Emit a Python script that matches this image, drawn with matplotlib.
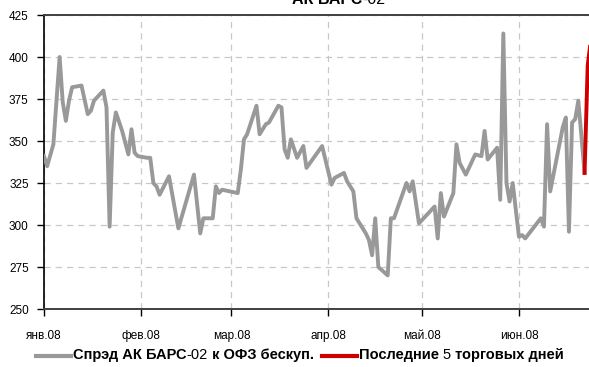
import numpy as np
import pandas as pd
import matplotlib
matplotlib.use("Agg")
import matplotlib.pyplot as plt
from matplotlib.lines import Line2D
from matplotlib.offsetbox import TextArea, DrawingArea, HPacker, AnchoredOffsetbox

plt.rcParams['font.family'] = ['Liberation Sans', 'DejaVu Sans']

# spread series (bp)
dates = ["2008-01-01", "2008-01-02", "2008-01-04", "2008-01-06", "2008-01-07", "2008-01-08",
         "2008-01-09", "2008-01-10", "2008-01-13", "2008-01-15", "2008-01-16", "2008-01-17",
         "2008-01-20", "2008-01-21", "2008-01-22", "2008-01-23", "2008-01-24", "2008-01-26",
         "2008-01-28", "2008-01-29", "2008-01-30", "2008-01-31", "2008-02-03", "2008-02-04",
         "2008-02-05", "2008-02-06", "2008-02-07", "2008-02-10", "2008-02-13", "2008-02-18",
         "2008-02-20", "2008-02-21", "2008-02-24", "2008-02-25", "2008-02-26", "2008-02-27",
         "2008-03-03", "2008-03-04", "2008-03-05", "2008-03-06", "2008-03-09", "2008-03-10",
         "2008-03-12", "2008-03-13", "2008-03-16", "2008-03-17", "2008-03-18", "2008-03-19",
         "2008-03-20", "2008-03-22", "2008-03-24", "2008-03-25", "2008-03-30", "2008-04-02",
         "2008-04-03", "2008-04-06", "2008-04-07", "2008-04-09", "2008-04-10", "2008-04-13",
         "2008-04-14", "2008-04-15", "2008-04-16", "2008-04-17", "2008-04-20", "2008-04-21",
         "2008-04-22", "2008-04-26", "2008-04-27", "2008-04-28", "2008-04-30", "2008-05-05",
         "2008-05-06", "2008-05-07", "2008-05-08", "2008-05-11", "2008-05-12", "2008-05-13",
         "2008-05-15", "2008-05-18", "2008-05-20", "2008-05-21", "2008-05-22", "2008-05-25",
         "2008-05-26", "2008-05-27", "2008-05-28", "2008-05-29", "2008-05-30", "2008-06-01",
         "2008-06-02", "2008-06-03", "2008-06-08", "2008-06-09", "2008-06-10", "2008-06-11",
         "2008-06-15", "2008-06-16", "2008-06-17", "2008-06-18", "2008-06-19", "2008-06-20",
         "2008-06-22"]
spread = [341, 335, 348, 400, 373, 362,
          374, 382, 383, 366, 368, 374,
          380, 370, 299, 355, 367, 356,
          342, 357, 343, 341, 340, 340,
          325, 323, 318, 329, 298, 330,
          295, 304, 304, 323, 319, 321,
          319, 333, 351, 354, 371, 354,
          360, 361, 371, 370, 345, 340,
          351, 340, 347, 334, 347, 324,
          328, 331, 326, 320, 304, 295,
          291, 282, 304, 275, 270, 304,
          304, 325, 320, 326, 301, 311,
          292, 319, 305, 319, 348, 337,
          330, 342, 341, 356, 339, 346,
          315, 414, 325, 314, 325, 293,
          294, 292, 304, 299, 360, 320,
          358, 364, 296, 361, 363, 374,
          331]

# last 5 trading days (mostly outside the visible area)
last_dates = ["2008-06-22", "2008-06-23", "2008-06-24"]
last_spread = [331, 395, 410]

month_ticks = ["2008-01-01", "2008-02-01", "2008-03-01", "2008-04-01", "2008-05-01", "2008-06-01"]
month_labels = ["янв.08", "фев.08", "мар.08", "апр.08", "май.08", "июн.08"]

x = pd.to_datetime(dates)
xr = pd.to_datetime(last_dates)

fig = plt.figure(figsize=(5.89, 3.67), dpi=100)
ax = fig.add_axes([44/589, 1 - 309/367, 1 - 44/589, (309 - 15)/367])

gray = '#999999'
red = '#cc0000'
ax.plot(x, spread, color=gray, lw=2.8, solid_joinstyle='round', zorder=3)
ax.plot(xr, last_spread, color=red, lw=2.8, solid_joinstyle='round', zorder=4)

ax.set_ylim(250, 425)
ax.set_yticks(np.arange(250, 426, 25))
ax.set_xlim(pd.Timestamp("2008-01-01"), pd.Timestamp("2008-06-23 10:00"))
ax.set_xticks(pd.to_datetime(month_ticks))
ax.set_xticklabels(month_labels)

ax.grid(True, color='#c8c8c8', ls=(0, (5, 4)), lw=0.9)
ax.set_axisbelow(True)

for s in ['top', 'bottom']:
    ax.spines[s].set_color('#404040')
    ax.spines[s].set_linewidth(1.4)
ax.spines['left'].set_color('black')
ax.spines['left'].set_linewidth(1.2)
ax.spines['right'].set_visible(False)

ax.tick_params(axis='y', length=5, width=1, pad=6, labelsize=8.5, colors='black')
ax.tick_params(axis='x', length=5, width=1, pad=10, labelsize=8.5, colors='black')

# title with bold name and regular issue number
title = HPacker(children=[TextArea("АК БАРС", textprops=dict(fontsize=11.5, fontweight='bold')),
                          TextArea("-02", textprops=dict(fontsize=11.5))],
                align='baseline', pad=0, sep=0)
tbox = AnchoredOffsetbox(loc='center', child=title, frameon=False, pad=0,
                         bbox_to_anchor=(339/589, 1.0), bbox_transform=fig.transFigure)
fig.add_artist(tbox)


def handle(color):
    # widths in points: 25pt ~ 35px
    da = DrawingArea(25, 8, 0, 0)
    da.add_artist(Line2D([0, 25], [3.5, 3.5], color=color, lw=3))
    return da


def gap(w):
    return DrawingArea(w, 1, 0, 0)


bold = dict(fontsize=10.5, fontweight='bold')
reg = dict(fontsize=10.5)
legend = HPacker(children=[handle(gray), gap(0),
                           HPacker(children=[TextArea("Спрэд АК БАРС", textprops=bold),
                                             TextArea("-02", textprops=reg),
                                             TextArea(" к ОФЗ бескуп.", textprops=bold)],
                                   align='baseline', pad=0, sep=0),
                           gap(4.5),
                           handle(red), gap(0),
                           HPacker(children=[TextArea("Последние ", textprops=bold),
                                             TextArea("5", textprops=reg),
                                             TextArea(" торговых дней", textprops=bold)],
                                   align='baseline', pad=0, sep=0)],
                 align='center', pad=0, sep=0.7)
lbox = AnchoredOffsetbox(loc='center', child=legend, frameon=False, pad=0,
                         bbox_to_anchor=(300/589, 1 - 355/367), bbox_transform=fig.transFigure)
fig.add_artist(lbox)

fig.savefig("out.png", dpi=100)
